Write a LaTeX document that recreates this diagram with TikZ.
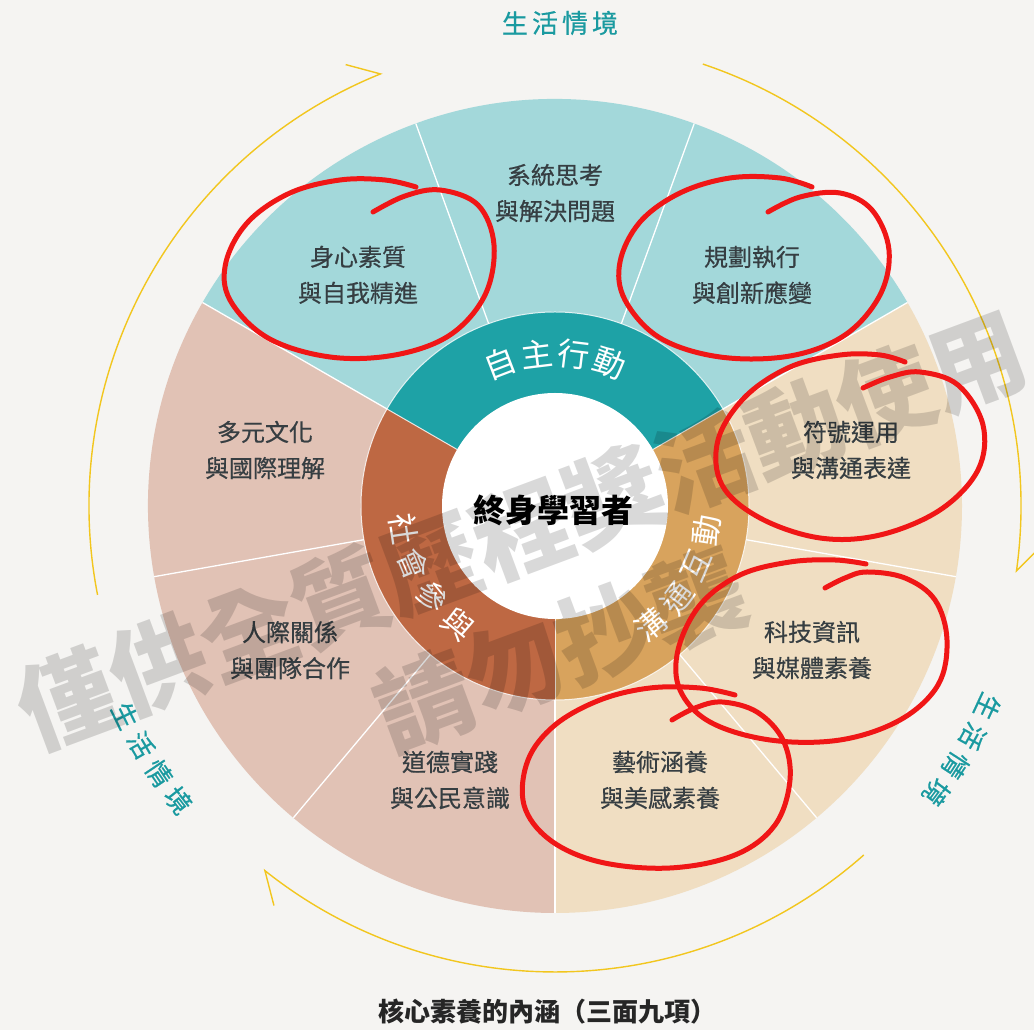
\documentclass[tikz,border=0pt]{standalone}
\usepackage{fontspec}
\newfontfamily\tc{Noto Sans CJK TC}
\newfontfamily\tcm[FakeBold=0.5]{Noto Sans CJK TC}
\definecolor{bgc}{HTML}{F5F4F2}
\definecolor{tealL}{HTML}{A3D8DA}
\definecolor{tealD}{HTML}{1EA2A6}
\definecolor{pinkL}{HTML}{E1C2B5}
\definecolor{brownD}{HTML}{BE6843}
\definecolor{beigeL}{HTML}{F0DEC2}
\definecolor{goldD}{HTML}{D8A35D}
\definecolor{tealT}{HTML}{1A9AA0}
\definecolor{labc}{HTML}{363E42}
\definecolor{yel}{HTML}{F2C61E}
\definecolor{redpen}{HTML}{F01616}
\tikzset{
  lab/.style={font=\tcm\fontsize{24}{36}\selectfont, text=labc, align=center},
  ringtxt/.style={font=\tc\fontsize{32}{32}\selectfont, text=white, inner sep=0pt},
  ctxt/.style={font=\tcm\fontsize{26}{26}\selectfont, text=tealT, inner sep=0pt},
  sep/.style={draw=white, line width=1.3pt},
  yarc/.style={draw=yel, line width=1.4pt, line join=miter},
  redloop/.style={draw=redpen, line width=5pt, line cap=round, line join=round},
  wmark/.style={font=\tc\bfseries\fontsize{97}{97}\selectfont, text=black, text opacity=0.15, inner sep=0pt}
}
\begin{document}
\begin{tikzpicture}[x=1pt,y=1pt]
\useasboundingbox (0,0) rectangle (1034,1030);
\fill[bgc] (0,0) rectangle (1034,1030);
\coordinate (C) at (555,524);
% outer sectors
\fill[tealL] (C) -- ++(30:407) arc[start angle=30,end angle=150,radius=407] -- cycle;
\fill[pinkL] (C) -- ++(150:407) arc[start angle=150,end angle=270,radius=407] -- cycle;
\fill[beigeL] (C) -- ++(-90:407) arc[start angle=-90,end angle=30,radius=407] -- cycle;
% ring
\fill[tealD] (C) -- ++(30:194) arc[start angle=30,end angle=150,radius=194] -- cycle;
\fill[brownD] (C) -- ++(150:194) arc[start angle=150,end angle=270,radius=194] -- cycle;
\fill[goldD] (C) -- ++(-90:194) arc[start angle=-90,end angle=30,radius=194] -- cycle;
\draw[draw=white, line width=1pt, opacity=0.8] (C) circle[radius=194];
\foreach \a in {30,70,...,350} \draw[sep] (C) ++(\a:194) -- ++(\a:213);
\foreach \a in {30,150,270} \draw[draw=white, line width=1pt, opacity=0.8] (C) ++(\a:113) -- ++(\a:81);
\fill[white] (C) circle[radius=113];
% center
\node[font=\tc\bfseries\fontsize{32}{32}\selectfont, text=black] (center) at (553,520) {終身學習者};
% labels
\node[lab] (l1) at (555,837) {系統思考\\與解決問題};
\node[lab] (l2) at (358,755) {身心素質\\與自我精進};
\node[lab] (l3) at (752,755) {規劃執行\\與創新應變};
\node[lab] (l4) at (265,580) {多元文化\\與國際理解};
\node[lab] (l5) at (290,380) {人際關係\\與團隊合作};
\node[lab] (l6) at (450,250) {道德實踐\\與公民意識};
\node[lab] (l7) at (851,580) {符號運用\\與溝通表達};
\node[lab] (l8) at (812,380) {科技資訊\\與媒體素養};
\node[lab] (l9) at (660,250) {藝術涵養\\與美感素養};
% ring texts
\foreach \ch [count=\i] in {自,主,行,動}
  \path (C) ++({125-14*\i}:153) node[ringtxt, rotate={35-14*\i}] (ra\i) {\ch};
\foreach \ch [count=\i] in {社,會,參,與}
  \path (C) ++({174.5+14*\i}:153) node[ringtxt, font=\tc\fontsize{31}{31}\selectfont, rotate={264.5+14*\i}] (rb\i) {\ch};
\foreach \ch [count=\i] in {溝,通,互,動}
  \path (C) ++({-65+14*\i}:153) node[ringtxt, font=\tc\fontsize{31}{31}\selectfont, rotate={25+14*\i}] (rc\i) {\ch};
% context labels
\foreach \ch [count=\i] in {生,活,情,境}
  \node[ctxt] (ct\i) at ({485+30*\i},1007) {\ch};
\foreach \ch [count=\i] in {生,活,情,境}
  \path (C) ++({-20.9-4*\i}:477) node[ctxt, rotate={-110.9-4*\i}] (cr\i) {\ch};
\foreach \ch [count=\i] in {生,活,情,境}
  \path (C) ++({202+4*\i}:478) node[ctxt, rotate={292+4*\i}] (cl\i) {\ch};
% yellow arcs
\draw[yarc] (C) ++(191:466) arc[start angle=191,end angle=112,radius=466] -- ++(165:36);
\draw[yarc] (C) ++(71.5:466) arc[start angle=71.5,end angle=-8,radius=466] -- ++(45:36);
\draw[yarc] (C) ++(-48.5:466) arc[start angle=-48.5,end angle=-128.5,radius=466] -- ++(-75.5:36);
% title
\node[font=\tc\bfseries\fontsize{26}{26}\selectfont, text=black!85] (title) at (547,18) {核心素養的內涵（三面九項）};
% watermark
\node[wmark, rotate=20.4] (wm1) at (522,500) {僅供全質歷程獎活動使用};
\node[wmark, rotate=20.4] (wm2) at (560,380) {請勿抄襲};
% red pen loops (pixel coordinates)
\begin{scope}[shift={(0pt,1030pt)}, y=-1pt]
\draw[redloop] plot[smooth, tension=0.6] coordinates {(373,212) (405,196) (440,190) (478,205) (494,245) (485,295) (450,335) (395,355) (330,357) (268,338) (230,300) (226,262) (248,222) (290,193) (340,180) (385,180) (416,187)};
\draw[redloop] plot[smooth, tension=0.6] coordinates {(768,212) (800,197) (840,193) (872,210) (889,250) (880,295) (845,335) (790,356) (720,357) (660,338) (625,300) (620,262) (640,222) (680,193) (730,178) (780,178) (812,187)};
\draw[redloop] plot[smooth, tension=0.6] coordinates {(863,388) (890,377) (920,372) (958,385) (983,425) (978,470) (940,510) (880,535) (820,538) (760,518) (722,485) (718,440) (745,397) (790,367) (840,355) (880,355) (905,362)};
\draw[redloop] plot[smooth, tension=0.6] coordinates {(825,588) (845,578) (867,572) (905,578) (935,600) (947,640) (938,685) (900,720) (840,740) (770,740) (710,722) (680,690) (678,650) (700,605) (740,575) (790,562) (835,560) (866,564)};
\draw[redloop] plot[smooth, tension=0.6] coordinates {(672,720) (695,708) (722,702) (757,712) (783,740) (790,780) (775,825) (735,855) (670,868) (600,862) (550,840) (524,805) (528,760) (555,725) (600,700) (650,688) (700,688) (735,695)};
\end{scope}
\end{tikzpicture}
\end{document}
